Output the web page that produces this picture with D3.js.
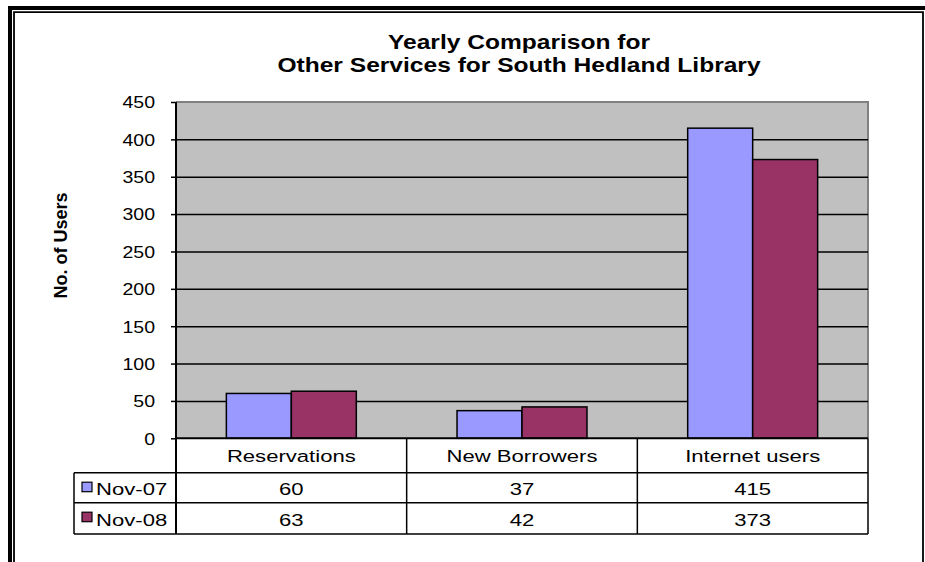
<!DOCTYPE html>
<html>
<head>
<meta charset="utf-8">
<script src="https://cdn.jsdelivr.net/npm/d3@7"></script>
<style>
  html, body { margin: 0; padding: 0; background: #fff; }
  svg { display: block; font-family: "Liberation Sans", Arial, sans-serif; }
</style>
</head>
<body>
<svg id="chart" width="925" height="562"></svg>
<script>
// ---- data ----
const categories = ["Reservations", "New Borrowers", "Internet users"];
const seriesNames = ["Nov-07", "Nov-08"];
const nov07 = [60, 37, 415];
const nov08 = [63, 42, 373];
const yTicks = [0, 50, 100, 150, 200, 250, 300, 350, 400, 450];
const seriesColors = ["#9999FF", "#993366"];
const titleLines = ["Yearly Comparison for", "Other Services for South Hedland Library"];
const yTitle = "No. of Users";

const seriesValues = [nov07, nov08];

// ---- layout ----
const W = 925, H = 562;
const plot = { left: 176, right: 868, top: 102, bottom: 438.3 };
const table = { left: 74, rowY: [438.3, 472.7, 502.7, 534] };

const svg = d3.select("#chart");

// frame
svg.append("rect").attr("x", 0).attr("y", 0).attr("width", W).attr("height", H).attr("fill", "#fff");
svg.append("path").attr("d", `M10,${H} V8 H${W}`).attr("fill", "none").attr("stroke", "#000").attr("stroke-width", 4);
svg.append("path").attr("d", `M14,${H} V12.2 H923 V${H}`).attr("fill", "none").attr("stroke", "#000").attr("stroke-width", 1.8);

// title
const title = svg.append("g");
titleLines.forEach((t, i) => {
  title.append("text")
    .attr("transform", `translate(519,${49 + i * 23}) scale(1.26,1)`)
    .attr("text-anchor", "middle")
    .attr("font-weight", "bold")
    .attr("font-size", 19.5)
    .attr("fill", "#000")
    .text(t);
});

// scales
const y = d3.scaleLinear().domain([0, 450]).range([plot.bottom, plot.top]);
const x0 = d3.scaleBand().domain(categories).range([plot.left, plot.right]).paddingInner(0).paddingOuter(0);
const x1 = d3.scaleBand().domain(seriesNames).range([0, x0.bandwidth()]).paddingInner(0).paddingOuter(0.775);

// plot area
svg.append("rect")
  .attr("x", plot.left).attr("y", plot.top)
  .attr("width", plot.right - plot.left).attr("height", plot.bottom - plot.top)
  .attr("fill", "#C0C0C0");
svg.append("path")
  .attr("d", `M${plot.left},${plot.top} H${plot.right} V${plot.bottom}`)
  .attr("fill", "none").attr("stroke", "#808080").attr("stroke-width", 2);

// gridlines
svg.append("g")
  .attr("transform", `translate(${plot.left},0)`)
  .call(d3.axisLeft(y).tickValues(yTicks.filter(v => v > 0 && v < 450)).tickSize(-(plot.right - plot.left)).tickFormat(""))
  .call(g => g.select(".domain").remove())
  .call(g => g.selectAll("line").attr("stroke", "#000").attr("stroke-width", 1.5));

// bars
const groups = svg.append("g").selectAll("g")
  .data(categories)
  .join("g")
  .attr("transform", d => `translate(${x0(d)},0)`);
groups.selectAll("rect")
  .data((c, ci) => seriesNames.map((s, si) => ({ s, si, v: seriesValues[si][ci] })))
  .join("rect")
  .attr("x", d => x1(d.s))
  .attr("y", d => y(d.v))
  .attr("width", x1.bandwidth())
  .attr("height", d => y(0) - y(d.v))
  .attr("fill", d => seriesColors[d.si])
  .attr("stroke", "#000")
  .attr("stroke-width", 1.5);

// y axis
const yAxis = svg.append("g")
  .attr("transform", `translate(${plot.left},0)`)
  .call(d3.axisLeft(y).tickValues(yTicks).tickSize(5).tickSizeOuter(0))
  .call(g => g.select(".domain").remove())
  .call(g => g.selectAll("line").attr("stroke", "#000").attr("stroke-width", 1.5));
yAxis.selectAll("text")
  .attr("x", null).attr("dy", null)
  .attr("transform", "translate(-21,5.8) scale(1.22,1)")
  .attr("font-size", 16)
  .attr("font-family", "Liberation Sans, Arial, sans-serif")
  .attr("fill", "#000");

// axis lines
svg.append("line").attr("x1", plot.left).attr("x2", plot.left).attr("y1", plot.top).attr("y2", table.rowY[3])
  .attr("stroke", "#000").attr("stroke-width", 2);
svg.append("line").attr("x1", plot.left).attr("x2", plot.right).attr("y1", plot.bottom).attr("y2", plot.bottom)
  .attr("stroke", "#000").attr("stroke-width", 2);

// y title
svg.append("text")
  .attr("transform", `translate(66.5,245.5) rotate(-90)`)
  .attr("text-anchor", "middle")
  .attr("font-weight", "bold")
  .attr("font-size", 18)
  .attr("fill", "#000")
  .text(yTitle);

// data table
const tg = svg.append("g");
const lineStyle = sel => sel.attr("stroke", "#000").attr("stroke-width", 1.5);
// horizontal lines
tg.append("line").attr("x1", table.left).attr("x2", plot.right).attr("y1", table.rowY[1]).attr("y2", table.rowY[1]).call(lineStyle);
tg.append("line").attr("x1", table.left).attr("x2", plot.right).attr("y1", table.rowY[2]).attr("y2", table.rowY[2]).call(lineStyle);
tg.append("line").attr("x1", table.left).attr("x2", plot.right).attr("y1", table.rowY[3]).attr("y2", table.rowY[3]).call(lineStyle);
// vertical lines
tg.append("line").attr("x1", table.left).attr("x2", table.left).attr("y1", table.rowY[1]).attr("y2", table.rowY[3]).call(lineStyle);
categories.forEach(c => {
  const xr = x0(c) + x0.bandwidth();
  tg.append("line").attr("x1", xr).attr("x2", xr).attr("y1", table.rowY[0]).attr("y2", table.rowY[3]).call(lineStyle);
});
// category labels
categories.forEach(c => {
  tg.append("text")
    .attr("transform", `translate(${x0(c) + x0.bandwidth() / 2},461.7) scale(1.3,1)`)
    .attr("text-anchor", "middle").attr("font-size", 17).attr("fill", "#000")
    .text(c);
});
// series rows
seriesNames.forEach((s, si) => {
  const top = table.rowY[si + 1];
  const base = si === 0 ? 495 : 525.7;
  tg.append("rect")
    .attr("x", 82).attr("y", top + 9.5)
    .attr("width", 10).attr("height", 9.5)
    .attr("fill", seriesColors[si]).attr("stroke", "#000").attr("stroke-width", 1.2);
  tg.append("text")
    .attr("transform", `translate(96,${base}) scale(1.3,1)`)
    .attr("font-size", 17).attr("fill", "#000")
    .text(s);
  categories.forEach((c, ci) => {
    tg.append("text")
      .attr("transform", `translate(${x0(c) + x0.bandwidth() / 2},${base}) scale(1.3,1)`)
      .attr("text-anchor", "middle").attr("font-size", 17).attr("fill", "#000")
      .text(seriesValues[si][ci]);
  });
});
</script>
</body>
</html>
